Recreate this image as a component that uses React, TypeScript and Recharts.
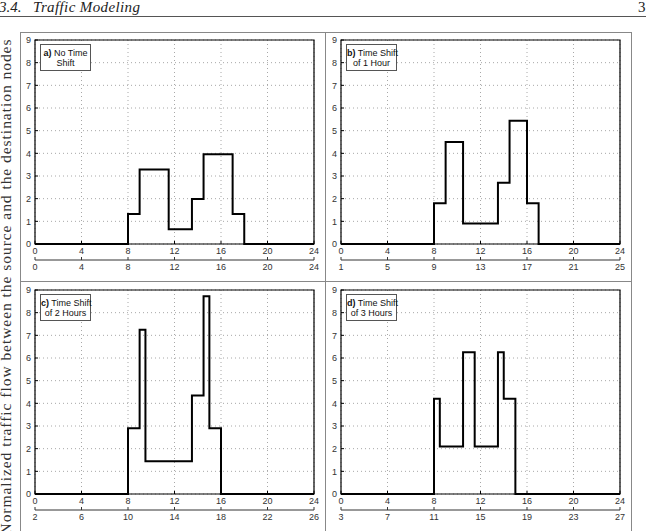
import * as React from "react";
import { LineChart, Line, XAxis, YAxis, CartesianGrid, ReferenceArea } from "recharts";

// hours of day on the main axis, flow 0..9
const hourTicks = [0, 4, 8, 12, 16, 20, 24];
const flowTicks = [0, 1, 2, 3, 4, 5, 6, 7, 8, 9];

const hoursA = [0, 8, 9, 11.5, 13.5, 14.5, 17, 18, 24];
const flowA = [0, 1.32, 3.29, 0.65, 1.99, 3.96, 1.32, 0, 0];
const shiftTicksA = [0, 4, 8, 12, 16, 20, 24];

const hoursB = [0, 8, 9, 10.5, 13.5, 14.5, 16, 17, 24];
const flowB = [0, 1.8, 4.5, 0.9, 2.7, 5.44, 1.8, 0, 0];
const shiftTicksB = [1, 5, 9, 13, 17, 21, 25];

const hoursC = [0, 8, 9, 9.5, 13.5, 14.5, 15, 16, 24];
const flowC = [0, 2.9, 7.25, 1.45, 4.35, 8.72, 2.9, 0, 0];
const shiftTicksC = [2, 6, 10, 14, 18, 22, 26];

const hoursD = [0, 8, 8.5, 10.5, 11.5, 13.5, 14, 15, 24];
const flowD = [0, 4.2, 2.1, 6.25, 2.1, 6.25, 4.2, 0, 0];
const shiftTicksD = [3, 7, 11, 15, 19, 23, 27];

const panelTags = ["a)", "b)", "c)", "d)"];
const panelLine1 = [" No Time", " Time Shift", " Time Shift", " Time Shift"];
const panelLine2 = ["Shift", "of 1 Hour", "of 2 Hours", "of 3 Hours"];

const tickStyle = { fontSize: 9, fill: "#333", fontFamily: "Liberation Sans, Arial, sans-serif" };

type PanelProps = {
  hours: number[];
  flow: number[];
  shiftTicks: number[];
  idx: number;
  left: number;
  top: number;
};

function Panel({ hours, flow, shiftTicks, idx, left, top }: PanelProps) {
  const data = hours.map((h, i) => ({ h, flow: flow[i] }));
  return (
    <div style={{ position: "absolute", left, top, width: 305, height: 250 }}>
      <LineChart width={305} height={250} data={data} margin={{ top: 8, right: 11, bottom: 0, left: 0 }}>
        <CartesianGrid stroke="#a8a8a8" strokeDasharray="1 3" />
        <XAxis
          dataKey="h"
          type="number"
          domain={[0, 24]}
          ticks={hourTicks}
          interval={0}
          height={16}
          tickSize={-3}
          tickMargin={7}
          axisLine={false}
          tickLine={{ stroke: "#000" }}
          tick={tickStyle}
        />
        {/* second row: the same hours shifted by the panel's offset */}
        <XAxis
          xAxisId="shift"
          dataKey="h"
          type="number"
          domain={[0, 24]}
          ticks={hourTicks}
          tickFormatter={(_v: number, i: number) => String(shiftTicks[i])}
          interval={0}
          height={22}
          tickSize={-3}
          tickMargin={7}
          axisLine={{ stroke: "#333" }}
          tickLine={{ stroke: "#333" }}
          tick={tickStyle}
        />
        <YAxis
          type="number"
          domain={[0, 9]}
          ticks={flowTicks}
          interval={0}
          width={15}
          tickSize={-3}
          tickMargin={7}
          axisLine={false}
          tickLine={{ stroke: "#000" }}
          tick={tickStyle}
        />
        <ReferenceArea x1={0} x2={24} y1={0} y2={9} fill="none" stroke="#000" strokeWidth={1.2} />
        <Line
          type="stepAfter"
          dataKey="flow"
          stroke="#000"
          strokeWidth={2}
          dot={false}
          isAnimationActive={false}
        />
      </LineChart>
      <div
        style={{
          position: "absolute",
          left: 20,
          top: 12,
          width: 51,
          height: 27,
          boxSizing: "border-box",
          border: "1px solid #555",
          background: "#fff",
          fontFamily: "Liberation Sans, Arial, sans-serif",
          fontSize: 9,
          lineHeight: "10px",
          textAlign: "center",
          paddingTop: 3,
          color: "#111",
          whiteSpace: "nowrap",
        }}
      >
        <b>{panelTags[idx]}</b>
        {panelLine1[idx]}
        <br />
        {panelLine2[idx]}
      </div>
    </div>
  );
}

export default function App() {
  return (
    <div style={{ position: "absolute", left: 0, top: 0, width: 646, height: 531, overflow: "hidden", background: "#fff" }}>
      <svg width={646} height={531} style={{ position: "absolute", left: 0, top: 0 }}>
        <text x={-1} y={12} fontFamily="Liberation Serif, serif" fontStyle="italic" fontSize={15} fill="#222">
          3.4.
        </text>
        <text x={33} y={12} fontFamily="Liberation Serif, serif" fontStyle="italic" fontSize={15} fill="#222" textLength={107}>
          Traffic Modeling
        </text>
        <text x={638} y={12} fontFamily="Liberation Serif, serif" fontSize={15} fill="#222">
          3
        </text>
        <line x1={0} y1={16.5} x2={646} y2={16.5} stroke="#555" strokeWidth={1} />
        <rect x={20.5} y={32.5} width={611} height={520} fill="none" stroke="#888" />
        <line x1={325.5} y1={32} x2={325.5} y2={531} stroke="#888" />
        <line x1={20} y1={281.5} x2={631} y2={281.5} stroke="#888" />
        <text
          transform="translate(11,287) rotate(-90)"
          textAnchor="middle"
          fontFamily="Liberation Serif, serif"
          fontSize={15.5}
          fill="#333"
          textLength={495}
          lengthAdjust="spacing"
        >
          Normalized traffic flow between the source and the destination nodes
        </text>
      </svg>
      <Panel hours={hoursA} flow={flowA} shiftTicks={shiftTicksA} idx={0} left={20} top={32} />
      <Panel hours={hoursB} flow={flowB} shiftTicks={shiftTicksB} idx={1} left={326} top={32} />
      <Panel hours={hoursC} flow={flowC} shiftTicks={shiftTicksC} idx={2} left={20} top={282} />
      <Panel hours={hoursD} flow={flowD} shiftTicks={shiftTicksD} idx={3} left={326} top={282} />
    </div>
  );
}
